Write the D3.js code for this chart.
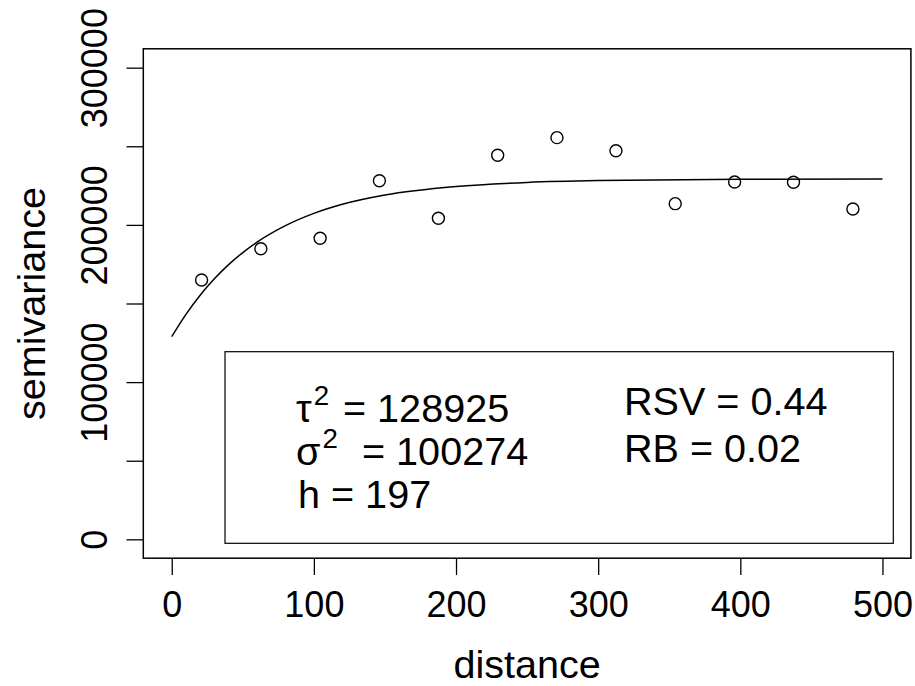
<!DOCTYPE html>
<html>
<head>
<meta charset="utf-8">
<script src="https://cdn.jsdelivr.net/npm/d3@7"></script>
<style>
  html, body { margin: 0; padding: 0; background: #fff; }
  svg { display: block; }
  text { font-family: "Liberation Sans", Arial, Helvetica, sans-serif; fill: #000; }
</style>
</head>
<body>
<svg id="chart" width="915" height="686"></svg>
<script>
// ---- data ----
const binDistance = [21.0, 62.7, 104.4, 146.1, 187.6, 229.3, 271.0, 312.5, 354.2, 396.0, 437.4, 479.2];
const semivariance = [164900, 184800, 191500, 228100, 204200, 244300, 255500, 247200, 213500, 227300, 227100, 210100];
// fitted model curve
const curveDistance = [0, 10, 20, 30, 40, 50, 60, 80, 100, 120, 150, 200, 250, 300, 400, 500];
const curveValue = [128925, 143100, 155300, 165700, 174700, 182400, 189000, 199500, 207300, 213100, 219000, 224400, 227000, 228200, 229000, 229150];
const xTicks = [0, 100, 200, 300, 400, 500];
const yTicks = [0, 50000, 100000, 150000, 200000, 250000, 300000];
const yTickLabels = [0, 100000, 200000, 300000];
const xTitle = "distance";
const yTitle = "semivariance";
const statsLeft = [
  { sym: "τ", sup: "2", rest: "= 128925" },
  { sym: "σ", sup: "2", rest: "= 100274" },
  { sym: "h", sup: "", rest: "= 197" }
];
const statsRight = ["RSV = 0.44", "RB = 0.02"];

// ---- layout ----
const plot = { left: 143.3, right: 910.9, top: 48.8, bottom: 558.2 };
const svg = d3.select("#chart");

const x = d3.scaleLinear().domain([-20, 520]).range([plot.left, plot.right]);
const y = d3.scaleLinear().domain([-12000, 312000]).range([plot.bottom, plot.top]);

const axisFont = 36;
const titleFont = 39.6;
const legendFont = 39.6;
const tickLen = 16.8;

// x axis
const xAxis = d3.axisBottom(x).tickValues(xTicks).tickSize(tickLen).tickPadding(0).tickFormat(d3.format("d"));
const gx = svg.append("g").attr("transform", `translate(0,${plot.bottom})`).call(xAxis);
gx.select(".domain").remove();
gx.selectAll(".tick line").attr("stroke", "#000").attr("stroke-width", 1.3);
gx.selectAll(".tick text")
  .attr("font-size", axisFont).attr("font-family", "Liberation Sans, Arial, sans-serif")
  .attr("fill", "#000").attr("dy", null).attr("y", 617.3 - plot.bottom);

// y axis
const yAxis = d3.axisLeft(y).tickValues(yTicks).tickSize(tickLen).tickPadding(0)
  .tickFormat(d => yTickLabels.includes(d) ? String(d) : "");
const gy = svg.append("g").attr("transform", `translate(${plot.left},0)`).call(yAxis);
gy.select(".domain").remove();
gy.selectAll(".tick line").attr("stroke", "#000").attr("stroke-width", 1.3);
gy.selectAll(".tick text")
  .attr("font-size", axisFont).attr("font-family", "Liberation Sans, Arial, sans-serif")
  .attr("fill", "#000")
  .attr("x", null).attr("dy", null)
  .attr("text-anchor", "middle")
  .attr("transform", `translate(${107 - plot.left},0) rotate(-90)`);

// plot box
svg.append("rect")
  .attr("x", plot.left).attr("y", plot.top)
  .attr("width", plot.right - plot.left).attr("height", plot.bottom - plot.top)
  .attr("fill", "none").attr("stroke", "#000").attr("stroke-width", 1.5);

// axis titles
svg.append("text").attr("x", (plot.left + plot.right) / 2).attr("y", 677.7)
  .attr("text-anchor", "middle").attr("font-size", titleFont).text(xTitle);
svg.append("text")
  .attr("transform", `translate(45,${(plot.top + plot.bottom) / 2}) rotate(-90)`)
  .attr("text-anchor", "middle").attr("font-size", titleFont).text(yTitle);

// model curve
const line = d3.line().x((d, i) => x(curveDistance[i])).y(d => y(d)).curve(d3.curveMonotoneX);
svg.append("path").datum(curveValue).attr("d", line)
  .attr("fill", "none").attr("stroke", "#000").attr("stroke-width", 1.5);

// points
svg.append("g").selectAll("circle").data(semivariance).join("circle")
  .attr("cx", (d, i) => x(binDistance[i])).attr("cy", d => y(d)).attr("r", 6)
  .attr("fill", "none").attr("stroke", "#000").attr("stroke-width", 1.4);

// legend box
svg.append("rect").attr("x", 225).attr("y", 351.7).attr("width", 893.3 - 225).attr("height", 543.3 - 351.7)
  .attr("fill", "#fff").attr("stroke", "#000").attr("stroke-width", 1.2);

const leftBase = [421.7, 464.5, 508];
const restX = [343, 362, null];
statsLeft.forEach((s, i) => {
  const t = svg.append("text").attr("x", 296).attr("y", leftBase[i]).attr("font-size", legendFont);
  if (s.sup) {
    t.append("tspan").text(s.sym);
    t.append("tspan").attr("dx", 2).attr("font-size", legendFont * 0.7).attr("dy", -17).text(s.sup);
    t.append("tspan").attr("x", restX[i]).attr("dy", 17).text(s.rest);
  } else {
    t.attr("x", 298).text(s.sym + " " + s.rest);
  }
});
const rightBase = [415, 461.7];
statsRight.forEach((s, i) => {
  svg.append("text").attr("x", 624).attr("y", rightBase[i]).attr("font-size", legendFont).text(s);
});
</script>
</body>
</html>
